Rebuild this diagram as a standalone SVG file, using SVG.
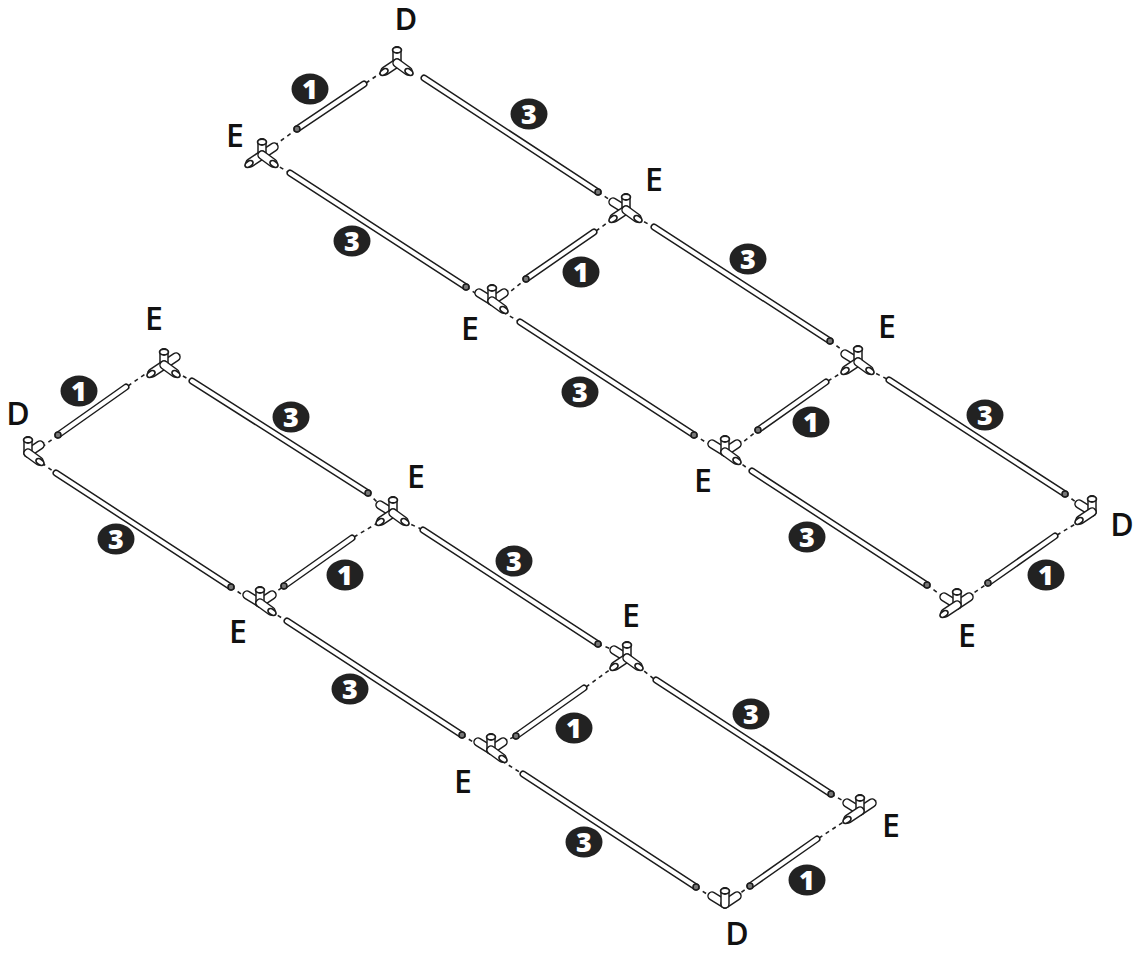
<svg xmlns="http://www.w3.org/2000/svg" width="1137" height="953" viewBox="0 0 1137 953">
<style>
.o{fill:none;stroke:#1c1c1c;stroke-width:7;stroke-linecap:round}
.i{fill:none;stroke:#fff;stroke-width:4;stroke-linecap:round}
.d{fill:none;stroke:#222;stroke-width:1.6;stroke-dasharray:4 4}
.e{fill:#777;stroke:#1c1c1c;stroke-width:1.6}
.so{fill:none;stroke:#1c1c1c;stroke-width:9.5;stroke-linecap:round}
.si{fill:none;stroke:#fff;stroke-width:6.5;stroke-linecap:round}
.c{fill:#fff;stroke:#1c1c1c;stroke-width:1.8}
.l{font-family:"Open Sans","Noto Sans","Liberation Sans",sans-serif;font-size:32px;font-weight:600;fill:#111;text-anchor:middle}
.t{font-family:Inter,"Open Sans","Liberation Sans",sans-serif;font-size:30px;font-weight:600;fill:#111;text-anchor:middle}
.b{fill:#222}
.n{font-family:"Open Sans","Liberation Sans",sans-serif;font-size:27px;font-weight:800;fill:#fff;text-anchor:middle}
</style>
<defs>
<g id="up"><path class="so" d="M0 0V-12"/><path class="si" d="M0 0V-12"/><ellipse class="c" cx="0" cy="-13" rx="4.4" ry="3"/></g>
<g id="dl"><path class="so" d="M0 0L-12 8"/><path class="si" d="M0 0L-12 8"/><ellipse class="c" cx="-13" cy="9" rx="2.8" ry="4.4" transform="rotate(56 -13 9)"/></g>
<g id="dr"><path class="so" d="M0 0L11 8"/><path class="si" d="M0 0L11 8"/><ellipse class="c" cx="12" cy="9" rx="2.8" ry="4.4" transform="rotate(-56 12 9)"/></g>
<g id="ul"><path class="so" d="M0 0L-13 -8"/><path class="si" d="M0 0L-13 -8"/></g>
<g id="ur"><path class="so" d="M0 0L12 -8"/><path class="si" d="M0 0L12 -8"/></g>
<g id="jA"><use href="#ul"/><use href="#up"/><use href="#dl"/><use href="#dr"/></g>
<g id="jB"><use href="#ul"/><use href="#ur"/><use href="#up"/><use href="#dr"/></g>
<g id="jC"><use href="#ul"/><use href="#ur"/><use href="#up"/><use href="#dl"/></g>
<g id="jE"><use href="#ur"/><use href="#up"/><use href="#dl"/><use href="#dr"/></g>
</defs>
<rect width="1137" height="953" fill="#fff"/>
<g id="connectors">
<path class="d" d="M297 129L275 145M366 83L385 70M598 192L613 202M273 163L288 172M466 287L478 295M505 296L526 279M596 231L614 218M637 218L652 226M830 341L845 352M503 312L518 321M694 435L712 446M738 446L758 430M828 381L846 370M869 370L887 379M1065 494L1080 505M736 460L750 470M927 585L945 598M968 597L988 583M1057 535L1082 520M42 447L58 435M128 386L151 370M176 372L190 380M368 493L380 505M42 463L54 472M231 587L247 598M272 595L284 586M354 537L381 521M404 521L421 529M598 644L614 650M271 611L285 620M462 735L478 745M503 742L516 736M586 687L615 666M638 666L654 679M831 794L847 803M502 761L521 773M696 887L713 898M735 897L750 886M819 838L848 819"/>
<path class="o" d="M297 129L364 84M424 78L598 192M290 173L466 287M526 279L594 232M654 227L830 341M520 322L694 435M758 430L826 382M889 380L1065 494M752 471L927 585M988 583L1055 536M58 435L126 387M192 381L368 493M56 473L231 587M284 586L352 538M423 530L598 644M287 621L462 735M516 736L584 688M656 680L831 794M523 774L696 887M750 886L817 839"/>
<path class="i" d="M297 129L364 84M424 78L598 192M290 173L466 287M526 279L594 232M654 227L830 341M520 322L694 435M758 430L826 382M889 380L1065 494M752 471L927 585M988 583L1055 536M58 435L126 387M192 381L368 493M56 473L231 587M284 586L352 538M423 530L598 644M287 621L462 735M516 736L584 688M656 680L831 794M523 774L696 887M750 886L817 839"/>
<g id="tube-ends">
<circle class="e" cx="297" cy="129" r="3"/><circle class="e" cx="598" cy="192" r="3"/><circle class="e" cx="466" cy="287" r="3"/><circle class="e" cx="526" cy="279" r="3"/><circle class="e" cx="830" cy="341" r="3"/><circle class="e" cx="694" cy="435" r="3"/><circle class="e" cx="758" cy="430" r="3"/><circle class="e" cx="1065" cy="494" r="3"/><circle class="e" cx="927" cy="585" r="3"/><circle class="e" cx="988" cy="583" r="3"/><circle class="e" cx="58" cy="435" r="3"/><circle class="e" cx="368" cy="493" r="3"/><circle class="e" cx="231" cy="587" r="3"/><circle class="e" cx="284" cy="586" r="3"/><circle class="e" cx="598" cy="644" r="3"/><circle class="e" cx="462" cy="735" r="3"/><circle class="e" cx="516" cy="736" r="3"/><circle class="e" cx="831" cy="794" r="3"/><circle class="e" cx="696" cy="887" r="3"/><circle class="e" cx="750" cy="886" r="3"/>
</g>
</g>
<g id="joint-d1"><g transform="translate(397 63)"><use href="#up"/><use href="#dl"/><use href="#dr"/></g><text class="t" x="406" y="30">D</text></g>
<g id="joint-e1"><use href="#jE" transform="translate(262 155)"/><text class="l" x="235" y="147">E</text></g>
<g id="joint-e2"><use href="#jA" transform="translate(626 210)"/><text class="l" x="654" y="191">E</text></g>
<g id="joint-e3"><use href="#jB" transform="translate(492 301)"/><text class="l" x="470" y="340">E</text></g>
<g id="joint-e4"><use href="#jA" transform="translate(858 362)"/><text class="l" x="887" y="338">E</text></g>
<g id="joint-e5"><use href="#jB" transform="translate(725 452)"/><text class="l" x="703" y="492">E</text></g>
<g id="joint-d2"><g transform="translate(1092 512)"><use href="#ul"/><use href="#up"/><use href="#dl"/></g><text class="l" x="1122" y="536">D</text></g>
<g id="joint-e6"><use href="#jC" transform="translate(957 605)"/><text class="l" x="967" y="647">E</text></g>
<g id="joint-e7"><use href="#jE" transform="translate(164 365)"/><text class="l" x="154" y="330">E</text></g>
<g id="joint-d3"><g transform="translate(28 453)"><use href="#ur"/><use href="#up"/><use href="#dr"/></g><text class="l" x="18" y="425">D</text></g>
<g id="joint-e8"><use href="#jA" transform="translate(393 513)"/><text class="l" x="416" y="488">E</text></g>
<g id="joint-e9"><use href="#jB" transform="translate(260 603)"/><text class="l" x="238" y="643">E</text></g>
<g id="joint-e10"><use href="#jA" transform="translate(627 658)"/><text class="l" x="631" y="627">E</text></g>
<g id="joint-e11"><use href="#jB" transform="translate(491 750)"/><text class="l" x="463" y="793">E</text></g>
<g id="joint-e12"><use href="#jC" transform="translate(860 811)"/><text class="l" x="891" y="837">E</text></g>
<g id="joint-d4"><g transform="translate(725 904)"><use href="#ul"/><use href="#ur"/><use href="#up"/></g><text class="l" x="737" y="945">D</text></g>
<g id="badges">
<g id="badge-1"><ellipse class="b" cx="310" cy="89" rx="18.5" ry="15.5"/><text class="n" x="310" y="99">1</text></g>
<g id="badge-2"><ellipse class="b" cx="529" cy="114" rx="18.5" ry="15.5"/><text class="n" x="529" y="124">3</text></g>
<g id="badge-3"><ellipse class="b" cx="352" cy="241" rx="18.5" ry="15.5"/><text class="n" x="352" y="251">3</text></g>
<g id="badge-4"><ellipse class="b" cx="581" cy="272" rx="18.5" ry="15.5"/><text class="n" x="581" y="282">1</text></g>
<g id="badge-5"><ellipse class="b" cx="748" cy="259" rx="18.5" ry="15.5"/><text class="n" x="748" y="269">3</text></g>
<g id="badge-6"><ellipse class="b" cx="580" cy="392" rx="18.5" ry="15.5"/><text class="n" x="580" y="402">3</text></g>
<g id="badge-7"><ellipse class="b" cx="811" cy="422" rx="18.5" ry="15.5"/><text class="n" x="811" y="432">1</text></g>
<g id="badge-8"><ellipse class="b" cx="985" cy="415" rx="18.5" ry="15.5"/><text class="n" x="985" y="425">3</text></g>
<g id="badge-9"><ellipse class="b" cx="807" cy="537" rx="18.5" ry="15.5"/><text class="n" x="807" y="547">3</text></g>
<g id="badge-10"><ellipse class="b" cx="1046" cy="575" rx="18.5" ry="15.5"/><text class="n" x="1046" y="585">1</text></g>
<g id="badge-11"><ellipse class="b" cx="79" cy="391" rx="18.5" ry="15.5"/><text class="n" x="79" y="401">1</text></g>
<g id="badge-12"><ellipse class="b" cx="291" cy="417" rx="18.5" ry="15.5"/><text class="n" x="291" y="427">3</text></g>
<g id="badge-13"><ellipse class="b" cx="116" cy="539" rx="18.5" ry="15.5"/><text class="n" x="116" y="549">3</text></g>
<g id="badge-14"><ellipse class="b" cx="345" cy="575" rx="18.5" ry="15.5"/><text class="n" x="345" y="585">1</text></g>
<g id="badge-15"><ellipse class="b" cx="514" cy="561" rx="18.5" ry="15.5"/><text class="n" x="514" y="571">3</text></g>
<g id="badge-16"><ellipse class="b" cx="350" cy="689" rx="18.5" ry="15.5"/><text class="n" x="350" y="699">3</text></g>
<g id="badge-17"><ellipse class="b" cx="574" cy="728" rx="18.5" ry="15.5"/><text class="n" x="574" y="738">1</text></g>
<g id="badge-18"><ellipse class="b" cx="751" cy="714" rx="18.5" ry="15.5"/><text class="n" x="751" y="724">3</text></g>
<g id="badge-19"><ellipse class="b" cx="584" cy="842" rx="18.5" ry="15.5"/><text class="n" x="584" y="852">3</text></g>
<g id="badge-20"><ellipse class="b" cx="807" cy="880" rx="18.5" ry="15.5"/><text class="n" x="807" y="890">1</text></g>
</g>
</svg>
